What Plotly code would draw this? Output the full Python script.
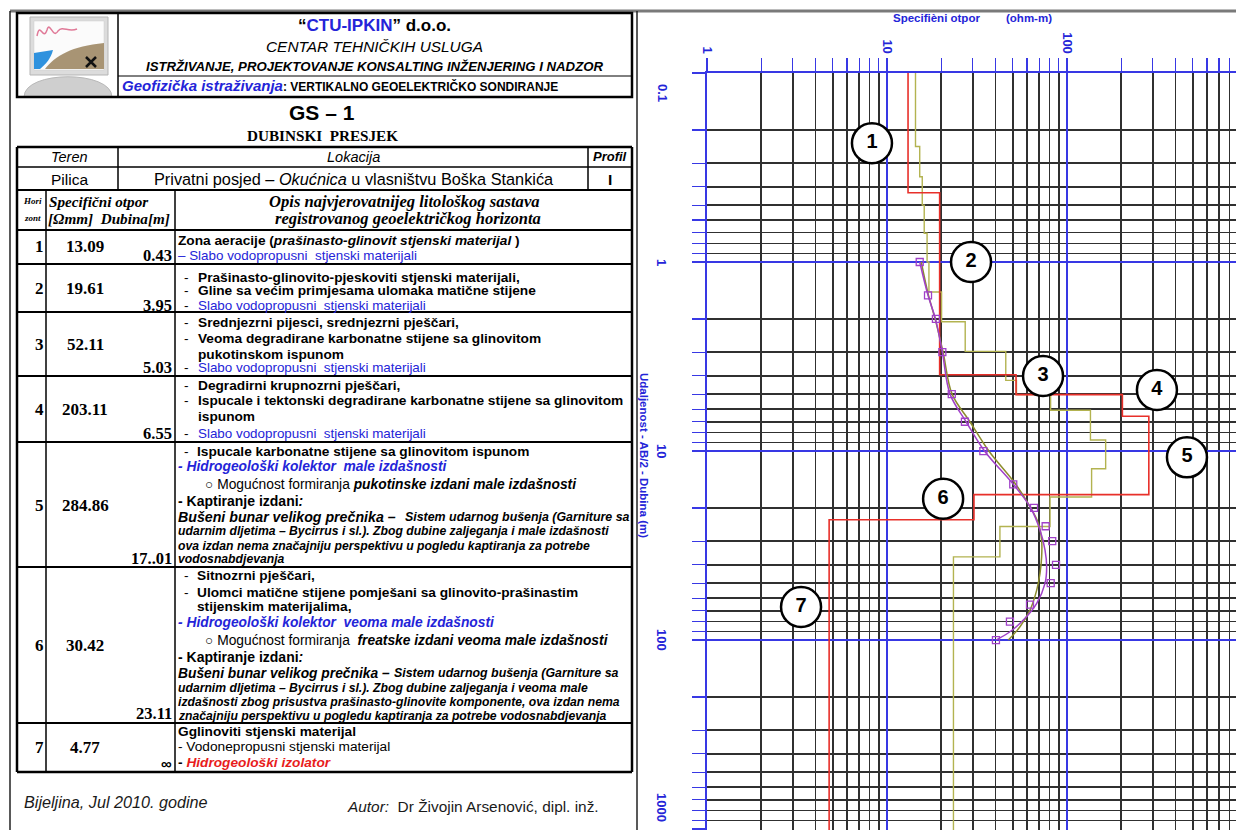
import math
import plotly.graph_objects as go

W, H = 1236, 830

# ------------------------------------------------------------------ data
horizon = [1, 2, 3, 4, 5, 6, 7]
layer_rho = [13.09, 19.61, 52.11, 203.11, 284.86, 30.42, 4.77]
layer_bottom = [0.43, 3.95, 5.03, 6.55, 17.01, 23.11]
layer_bottom_text = ["0.43", "3.95", "5.03", "6.55", "17..01", "23.11", "∞"]
model_top = 0.1
half_space_end = 2000

zohdy_rho = [14.4, 15.2, 15.7, 16.1, 16.7, 17.1, 20.1, 27.2, 45.7, 52.4, 81.1,
             135.0, 164.0, 137.0, 80.5, 42.4, 23.4]
zohdy_bottom = [0.245, 0.354, 0.5, 0.705, 1.0, 1.44, 2.07, 2.97, 4.23, 5.03,
                6.09, 8.74, 12.4, 17.5, 25.1, 36.3]

ab2 = [1, 1.5, 2, 3, 5, 7, 10, 15, 20, 25, 30, 40, 50, 65, 80, 100]
rho_measured = [15.2, 16.9, 18.7, 20.3, 22.9, 27.1, 34.3, 50.3, 65.6, 76.1,
                82.8, 86.9, 81.2, 62.3, 48.2, 40.3]

fit_ab2 = [1.0, 1.5, 2, 3, 5, 7, 10, 15, 19.7, 26.2, 33.4, 40.9, 50.1, 63.9,
           78.4, 90.4, 100]
fit_rho = [15.2, 16.9, 18.6, 20.3, 22.4, 27.5, 34.8, 50.3, 62.3, 70.8, 75.5,
           77.1, 75.5, 67.9, 57.2, 48.2, 40.3]

calc_ab2 = [1.0, 1.5, 2, 3, 5, 7, 10, 14.8, 19.7, 24.1, 29.6, 36.3, 44.4,
            54.4, 69.4, 85.1, 100]
calc_rho = [15.5, 17.0, 18.5, 20.5, 23.0, 28.9, 36.8, 51.4, 62.3, 69.3, 72.3,
            72.3, 70.8, 67.9, 62.3, 54.8, 47.2]

x_tick_vals = [1, 10, 100, 1000]
x_tick_text = ["1", "10", "100", "1000"]
y_tick_vals = [0.1, 1, 10, 100, 1000]
y_tick_text = ["0.1", "1", "10", "100", "1000"]
minor_x = [m * d for d in (1, 10, 100) for m in range(2, 10)]
minor_y = [m * d for d in (0.1, 1, 10, 100) for m in range(2, 10)]

circle_labels = ["1", "2", "3", "4", "5", "6", "7"]
circle_x = [8.25, 29.3, 73.6, 316, 464, 20.5, 3.33]
circle_y = [0.235, 1.0, 4.01, 4.75, 10.8, 17.9, 66.8]

# ------------------------------------------------------------------ styles
SANS = "Liberation Sans, Arial, sans-serif"
SERIF = "Liberation Serif, Times New Roman, serif"
NARROW = "Liberation Sans Narrow, Liberation Sans, Arial, sans-serif"
AXBLUE = "#3838e4"
TXTBLUE = "#2424d8"
GRID = "#303030"
RED = "#e8302a"
OLIVE = "#b3b350"
OLIVE_D = "#8c8c2c"
MAG = "#a040c8"
NB = "\u00a0"


def X(px):
    return px / W


def Y(py):
    return 1 - py / H


def steps(rho, bottoms):
    xs, ys = [], []
    top = model_top
    for r, b in zip(rho, bottoms + [half_space_end]):
        xs += [r, r]
        ys += [top, b]
        top = b
    return xs, ys


fig = go.Figure()

zx, zy = steps(zohdy_rho, zohdy_bottom)
fig.add_trace(go.Scatter(x=zx, y=zy, mode="lines",
                         line=dict(color=OLIVE, width=1.4), hoverinfo="skip"))
rx, ry = steps(layer_rho, layer_bottom)
fig.add_trace(go.Scatter(x=rx, y=ry, mode="lines",
                         line=dict(color=RED, width=1.6), hoverinfo="skip"))
fig.add_trace(go.Scatter(x=calc_rho, y=calc_ab2, mode="lines",
                         line=dict(color=OLIVE_D, width=1.5, shape="spline"),
                         hoverinfo="skip"))
fig.add_trace(go.Scatter(x=fit_rho, y=fit_ab2, mode="lines",
                         line=dict(color=MAG, width=1.5, shape="spline"),
                         hoverinfo="skip"))
fig.add_trace(go.Scatter(x=rho_measured, y=ab2, mode="markers",
                         marker=dict(symbol="square-open", size=7, color=MAG,
                                     line=dict(width=1.3, color=MAG)),
                         hoverinfo="skip"))
fig.add_trace(go.Scatter(x=circle_x, y=circle_y, mode="markers+text",
                         text=["<b>%s</b>" % s for s in circle_labels],
                         textposition="middle center",
                         textfont=dict(family=SANS, size=20, color="black"),
                         marker=dict(symbol="circle", size=40, color="white",
                                     line=dict(width=2.5, color="black")),
                         hoverinfo="skip"))

fig.update_layout(
    width=W, height=H, margin=dict(l=0, r=0, t=0, b=0),
    paper_bgcolor="white", plot_bgcolor="white", showlegend=False,
    xaxis=dict(type="log", range=[0, 2.939], domain=[X(707), 1], side="top",
               anchor="y", showline=True, linecolor=AXBLUE, linewidth=1.6,
               showgrid=True, gridcolor=AXBLUE, gridwidth=1.5,
               tickmode="array", tickvals=x_tick_vals,
               ticktext=["<b>%s</b>" % t for t in x_tick_text],
               ticks="outside", ticklen=13, tickwidth=1.4, tickcolor=AXBLUE,
               tickangle=90, tickfont=dict(family=NARROW, size=13, color=TXTBLUE),
               minor=dict(tickmode="array", tickvals=minor_x, ticks="outside",
                          ticklen=13, tickwidth=1.2, tickcolor=AXBLUE,
                          showgrid=True, gridcolor=GRID, gridwidth=1.5),
               zeroline=False, automargin=False, fixedrange=True),
    yaxis=dict(type="log", range=[3.005, -1], domain=[0, Y(73)], anchor="x",
               showline=True, linecolor=AXBLUE, linewidth=1.6,
               showgrid=True, gridcolor=AXBLUE, gridwidth=1.5,
               tickmode="array", tickvals=y_tick_vals, showticklabels=False,
               ticks="outside", ticklen=13, tickwidth=1.4, tickcolor=AXBLUE,
               minor=dict(tickmode="array", tickvals=minor_y, ticks="outside",
                          ticklen=13, tickwidth=1.2, tickcolor=AXBLUE,
                          showgrid=True, gridcolor=GRID, gridwidth=1.5),
               zeroline=False, automargin=False, fixedrange=True),
)

shapes = []
annots = []


def line(x0, y0, x1, y1, w=1.5, color="black"):
    shapes.append(dict(type="line", xref="paper", yref="paper",
                       x0=X(x0), y0=Y(y0), x1=X(x1), y1=Y(y1),
                       line=dict(color=color, width=w), layer="above"))


def rect(x0, y0, x1, y1, w=1.5, color="black", fill=None):
    shapes.append(dict(type="rect", xref="paper", yref="paper",
                       x0=X(x0), y0=Y(y0), x1=X(x1), y1=Y(y1),
                       line=dict(color=color, width=w),
                       fillcolor=fill if fill else "rgba(0,0,0,0)",
                       layer="above"))


def path(cmds, fill=None, color=None, w=0):
    parts = []
    for c in cmds:
        op = c[0]
        nums = c[1:]
        pts = []
        for i in range(0, len(nums), 2):
            pts.append("%.5f,%.5f" % (X(nums[i]), Y(nums[i + 1])))
        parts.append(op + " " + " ".join(pts))
    shapes.append(dict(type="path", xref="paper", yref="paper",
                       path=" ".join(parts) + (" Z" if fill else ""),
                       fillcolor=fill if fill else "rgba(0,0,0,0)",
                       line=dict(color=color if color else "rgba(0,0,0,0)",
                                 width=w), layer="above"))


def txt(x, y, s, size=13.7, color="black", family=SANS, anchor="left",
        angle=0, xref="paper", yref="paper", yshift=0):
    annots.append(dict(x=X(x) if xref == "paper" else x,
                       y=Y(y) if yref == "paper" else y,
                       xref=xref, yref=yref, text=s, showarrow=False,
                       xanchor=anchor, yanchor="middle",
                       align=anchor if anchor != "center" else "center",
                       textangle=angle, borderpad=0, yshift=yshift,
                       font=dict(family=family, size=size, color=color)))


# ------------------------------------------------------------------ frame
line(10, 11, 1236, 11, w=3, color="#7a7a7a")
line(10, 11, 10, 835, w=1.5, color="#222")
line(637, 11, 637, 835, w=1.5, color="#222")

# ------------------------------------------------------------------ logo
path([("M", 24, 97), ("C", 24, 70, 112, 70, 112, 97)], fill="#cfcfcf",
     color="#b8b8b8", w=1)
rect(30, 17, 108, 75, w=1, color="#b5b5b5", fill="#dcdcdc")
rect(34, 21, 104, 70, w=0.5, color="#cccccc", fill="#fbfbfb")
path([("M", 37, 36), ("C", 40, 20, 43, 42, 47, 30), ("C", 50, 20, 53, 40, 58, 31),
      ("C", 63, 25, 68, 33, 77, 29)], color="#e07a98", w=1.5)
path([("M", 34, 53), ("L", 53, 50), ("C", 51, 58, 46, 64, 40, 69),
      ("L", 34, 69)], fill="#2f92de")
path([("M", 45, 69), ("C", 55, 56, 72, 46, 104, 43), ("L", 104, 69)],
     fill="#a89474")
path([("M", 86, 57), ("L", 96, 67), ("M", 96, 57), ("L", 86, 67)],
     color="#111", w=2.5)

# ------------------------------------------------------------------ header box
rect(17, 13, 632, 97, w=2.5)
line(118, 13, 118, 97, w=1.5)
line(118, 76, 632, 76, w=1)
txt(375, 26, "<b>“<span style='color:%s'>CTU-IPKIN</span>” d.o.o.</b>" % TXTBLUE,
    size=17, anchor="center")
txt(375, 47, "<i>CENTAR TEHNIČKIH USLUGA</i>", size=15.4, anchor="center")
txt(375, 66, "<b><i>ISTRŽIVANJE, PROJEKTOVANJE KONSALTING INŽENJERING I NADZOR</i></b>",
    size=13.2, anchor="center")
txt(121, 86, ("<span style='color:%s'><b><i>Geofizička istraživanja</i></b></span>"
              "<b><span style='font-size:12px'>:" + NB +
              "VERTIKALNO GEOELEKTRIČKO SONDIRANJE</span></b>") % TXTBLUE, size=15)

txt(322, 113, "<b>GS – 1</b>", size=21, anchor="center")
txt(322, 135, "<b>DUBINSKI" + NB + NB + "PRESJEK</b>", size=15.2, family=SERIF,
    anchor="center")

# ------------------------------------------------------------------ table frame
ROWS = [230, 264, 312, 376, 442, 567, 723, 772]
line(17, 147, 632, 147, w=2.5)
line(17, 167, 632, 167, w=1.5)
line(17, 190, 632, 190, w=2)
for r in ROWS[:-1]:
    line(17, r, 632, r, w=2)
line(17, ROWS[-1], 632, ROWS[-1], w=2.5)
line(17, 147, 17, ROWS[-1], w=2.5)
line(632, 147, 632, ROWS[-1], w=2.5)
line(118, 147, 118, 190, w=1.5)
line(588, 147, 588, 190, w=1.5)
line(46, 190, 46, ROWS[-1], w=1.5)
line(175, 190, 175, ROWS[-1], w=1.5)

txt(69, 157, "<i>Teren</i>", size=14.5, anchor="center")
txt(353, 157, "<i>Lokacija</i>", size=14.5, anchor="center")
txt(610, 157, "<b><i>Profil</i></b>", size=13, anchor="center")
txt(69, 179, "Pilica", size=15.5, anchor="center")
txt(354, 179, "Privatni posjed – <i>Okućnica</i> u vlasništvu Boška Stankića",
    size=16.3, anchor="center")
txt(610, 179, "<b>I</b>", size=15.5, anchor="center")

txt(32, 201, "<b><i>Hori</i></b>", size=9, family=SERIF, anchor="center")
txt(32, 218, "<b><i>zont</i></b>", size=9, family=SERIF, anchor="center")
txt(48, 201, "<b><i>Specifični otpor</i></b>", size=15.2, family=SERIF)
txt(47, 218, "<b><i>[Ωmm]" + NB * 2 + "Dubina[m]</i></b>", size=15.2, family=SERIF)
txt(404, 201, "<b><i>Opis najvjerovatnijeg litološkog sastava</i></b>", size=16.6,
    family=SERIF, anchor="center")
txt(408, 218, "<b><i>registrovanog geoelektričkog horizonta</i></b>", size=16.5,
    family=SERIF, anchor="center")

# numbers, resistivities, depths (from the data)
num_y = [247, 288, 344, 409, 505, 645, 747]
dep_y = [255, 305, 368, 433, 558, 713, 763]
for h, v, d, yn, yd in zip(horizon, layer_rho, layer_bottom_text, num_y, dep_y):
    txt(39, yn, "<b>%d</b>" % h, size=17, family=SERIF, anchor="center")
    txt(85, yn, "<b>%.2f</b>" % v, size=17, family=SERIF, anchor="center")
    txt(173, yd, "<b>%s</b>" % d, size=16.5 if d != "∞" else 15,
        family=SERIF if d != "∞" else SANS, anchor="right")

BL = "<span style='color:%s'>" % TXTBLUE
slabo = BL + "Slabo vodopropusni" + NB + NB + "stjenski materijali</span>"
BS = 13.7   # bold description text
SS = 13.4   # blue regular text


def dash(y):
    txt(183, y, "-", size=BS)


# row 1
txt(177, 241, "<b>Zona aeracije (<i>prašinasto-glinovit stjenski materijal</i> )</b>", size=BS)
txt(177, 255, BL + "– Slabo vodopropusni" + NB + NB + "stjenski materijali</span>", size=SS)
# row 2
for y, s in [(277, "<b>Prašinasto-glinovito-pjeskoviti stjenski materijali,</b>"),
             (290, "<b>Gline sa većim primjesama ulomaka matične stijene</b>")]:
    dash(y)
    txt(197, y, s, size=BS)
dash(305)
txt(197, 305, slabo, size=SS)
# row 3
for y, s in [(322, "<b>Srednjezrni pijesci, srednjezrni pješčari,</b>"),
             (338, "<b>Veoma degradirane karbonatne stijene sa glinovitom</b>")]:
    dash(y)
    txt(197, y, s, size=BS)
txt(197, 354, "<b>pukotinskom ispunom</b>", size=BS)
dash(368)
txt(197, 368, slabo, size=SS)
# row 4
for y, s in [(386, "<b>Degradirni krupnozrni pješčari,</b>"),
             (401, "<b>Ispucale i tektonski degradirane karbonatne stijene sa glinovitom</b>")]:
    dash(y)
    txt(197, y, s, size=BS)
txt(197, 417, "<b>ispunom</b>", size=BS)
dash(433)
txt(197, 433, slabo, size=SS)
# row 5
dash(451.7)
txt(196, 451.7, "<b>Ispucale karbonatne stijene sa glinovitom ispunom</b>", size=BS)
txt(177, 466.7, BL + "<b><i>- Hidrogeološki kolektor" + NB + NB + "male izdašnosti</i></b></span>", size=13.8)
txt(204, 484, "○ Mogućnost formiranja <b><i>pukotinske izdani male izdašnosti</i></b>", size=13.8)
txt(177, 500.7, "<b>- Kaptiranje izdani<i>:</i></b>", size=14)
txt(177, 516.7, "<b><i>Bušeni bunar velikog prečnika –</i></b>", size=14.2)
txt(404, 516.7, "<b><i>Sistem udarnog bušenja (Garniture sa</i></b>", size=12.4)
txt(177, 531, "<b><i>udarnim dljetima – Bycirrus i sl.). Zbog dubine zaljeganja i male izdašnosti</i></b>", size=12.2)
txt(177, 545.7, "<b><i>ova izdan nema značajniju perspektivu u pogledu kaptiranja za potrebe</i></b>", size=12.2)
txt(177, 559.3, "<b><i>vodosnabdjevanja</i></b>", size=12.2)
# row 6
dash(575.7)
txt(196, 575.7, "<b>Sitnozrni pješčari,</b>", size=BS)
dash(592.3)
txt(196, 592.3, "<b>Ulomci matične stijene pomješani sa glinovito-prašinastim</b>", size=BS)
txt(196, 606.7, "<b>stijenskim materijalima,</b>", size=BS)
txt(177, 622.7, BL + "<b><i>- Hidrogeološki kolektor" + NB + NB + "veoma male izdašnosti</i></b></span>", size=13.8)
txt(204, 640.7, "○ Mogućnost formiranja" + NB + NB + "<b><i>freatske izdani veoma male izdašnosti</i></b>", size=13.8)
txt(177, 657.3, "<b>- Kaptiranje izdani<i>:</i></b>", size=14)
txt(177, 673.3, "<b><i>Bušeni bunar velikog prečnika –</i></b>", size=13.8)
txt(393, 673.3, "<b><i>Sistem udarnog bušenja (Garniture sa</i></b>", size=12.4)
txt(177, 687.7, "<b><i>udarnim dljetima – Bycirrus i sl.). Zbog dubine zaljeganja i veoma male</i></b>", size=12.2)
txt(177, 701.7, "<b><i>izdašnosti zbog prisustva prašinasto-glinovite komponente, ova izdan nema</i></b>", size=12.2)
txt(177, 715.7, "<b><i>značajniju perspektivu u pogledu kaptiranja za potrebe vodosnabdjevanja</i></b>", size=12.2)
# row 7
txt(177, 731.7, "<b>Gglinoviti stjenski materijal</b>", size=BS)
txt(177, 746.7, "- Vodonepropusni stjenski materijal", size=BS)
txt(177, 762.7, "<b>- </b><span style='color:#e81c1c'><b><i>Hidrogeološki izolator</i></b></span>", size=BS)

# footer
txt(23, 802, "<i>Bijeljina, Jul 2010. godine</i>", size=16.2, color="#1a1a1a")
txt(346, 806, "<i>Autor:</i>" + NB + NB + "Dr Živojin Arsenović, dipl. inž.", size=15.4,
    color="#1a1a1a")

# ------------------------------------------------------------------ right panel texts
txt(892, 18, "<b>Specifièni otpor</b>", size=11.5, color=TXTBLUE, family=NARROW)
txt(1005, 18, "<b>(ohm-m)</b>", size=11.5, color=TXTBLUE, family=NARROW)
txt(644, 455, "<b>Udaljenost - AB/2 - Dubina (m)</b>", size=11.5, color=TXTBLUE,
    family=NARROW, anchor="center", angle=90)
edge_shift = {0: -20, len(y_tick_vals) - 1: 22}
for i, (v, s) in enumerate(zip(y_tick_vals, y_tick_text)):
    txt(662, math.log10(v), "<b>%s</b>" % s, size=13, color=TXTBLUE, family=NARROW,
        anchor="center", angle=90, yref="y", yshift=edge_shift.get(i, 0))

fig.update_layout(shapes=shapes, annotations=annots)
fig.write_html("out.html",
               config={"displayModeBar": False, "staticPlot": True},
               post_script="document.body.style.margin='0px';"
                           "document.body.style.overflow='hidden';")
